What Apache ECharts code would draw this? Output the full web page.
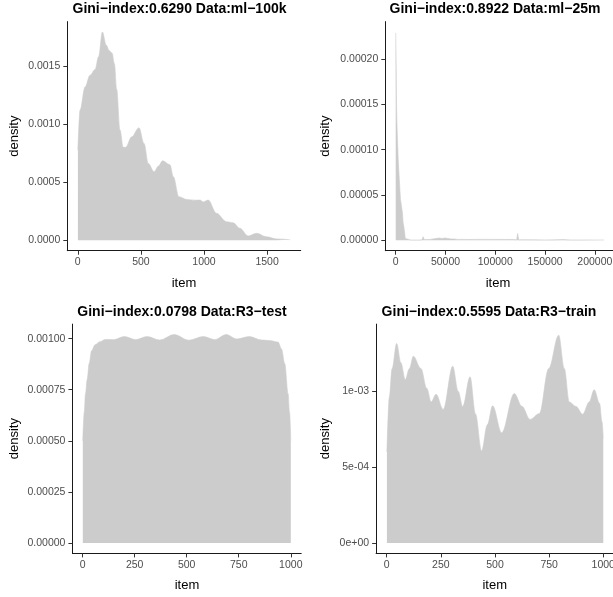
<!DOCTYPE html>
<html><head><meta charset="utf-8">
<script src="https://cdn.jsdelivr.net/npm/echarts@6/dist/echarts.min.js"></script>
<style>html,body{margin:0;padding:0;background:#fff}#c{width:613px;height:597px}</style>
</head><body><div id="c"></div>
<script>
// ---------- data ----------
const titles = ['Gini\u2212index:0.6290 Data:ml\u2212100k', 'Gini\u2212index:0.8922 Data:ml\u221225m',
                'Gini\u2212index:0.0798 Data:R3\u2212test', 'Gini\u2212index:0.5595 Data:R3\u2212train'];
const xName = 'item';
const yName = 'density';

// ml-100k
const p1X = [1,18,58,97,137,165,195,225,250,272,290,308,334,360,380,427,485,525,559,604,640,672,730,757,801,862,930,968,994,1033,1099,1178,1231,1284,1350,1416,1495,1574,1682];
const p1Y = [0.000776,0.00112,0.00132,0.00142,0.00147,0.00158,0.001792,0.00168,0.00163,0.00161,0.00152,0.00130,0.00095,0.00080,0.00080,0.00089,0.000968,0.000833,0.00066,0.00059,0.00064,0.000684,0.00065,0.000547,0.000375,0.000352,0.000345,0.000346,0.00033,0.000346,0.000232,0.00016,0.000151,0.000103,0.000037,0.00006,0.00003,0.000012,0.000005];

// ml-25m
const p2X = [1,200,500,800,1200,1800,2500,3200,4000,4800,5500,6300,6800,7400,8200,9000,9600,10500,15000,20000,
  24000,25500,26500,27500,28500,30000,31500,33000,34500,36000,37500,39000,40500,42000,43500,45000,46500,48000,49500,51000,
  52500,54000,55500,57000,58500,60000,62000,64000,66000,68000,70000,72000,74000,76000,78000,80000,82000,84000,86000,88000,
  90000,92000,94000,96000,98000,100000,102000,104000,106000,108000,110000,112000,114000,116000,118000,120000,121500,122500,123500,130000,
  140000,150000,160000,168000,175000,190000,209171];
const p2Y = [0.000229,0.00023,0.00019,0.00015,0.00013,0.00011,0.00009,0.000075,0.00006,0.000045,0.00004,0.000039,0.00003,0.00002,0.000015,0.000008,0.000002,0.0000005,0.0000003,0.0000003,
  0.0000003,0.0000025,0.0000005,0.000004,0.000001,0.000003,0.0000008,0.0000025,0.000001,0.000003,0.0000015,0.0000035,0.000002,0.000004,0.0000025,0.0000045,0.000002,0.000004,0.0000025,0.0000045,
  0.000002,0.000004,0.0000015,0.000003,0.0000015,0.0000035,0.000001,0.0000025,0.000001,0.000003,0.000001,0.0000025,0.0000008,0.000003,0.000001,0.0000025,0.000001,0.000003,0.000001,0.0000025,
  0.000001,0.000003,0.000001,0.0000025,0.000001,0.000003,0.000001,0.0000025,0.000001,0.000002,0.0000008,0.0000025,0.000001,0.000002,0.0000008,0.0000015,0.0000005,0.0000075,0.0000005,0.0000006,
  0.0000005,0.0000004,0.0000005,0.0000008,0.0000004,0.0000004,0.0000003];

// R3-test
const p3X = [1,8,14,22,32,43,60,83,110,150,200,255,310,370,440,510,580,635,690,740,800,860,905,939,955,971,987,994,1000];
const p3Y = [0.0005,0.00064,0.00073,0.0008,0.00088,0.00094,0.00097,0.000985,0.000996,0.000995,0.00101,0.000995,0.00101,0.000993,0.00102,0.000992,0.00101,0.000995,0.00102,0.000998,0.00101,0.000993,0.00099,0.000983,0.00095,0.000877,0.00073,0.00064,0.0005];

// R3-train
const p4X = [1,12,25,46,65,86,105,123,158,185,205,228,261,305,330,351,385,410,438,465,489,531,589,625,662,705,748,794,820,843,874,905,935,958,983,994,1000];
const p4Y = [0.0006,0.00096,0.00115,0.001315,0.00119,0.001077,0.00115,0.001231,0.00115,0.00102,0.00093,0.00098,0.00088,0.001165,0.001,0.0009,0.001095,0.00085,0.000607,0.00078,0.000904,0.000726,0.000985,0.0009,0.000814,0.000853,0.00115,0.00137,0.00115,0.00093,0.0009,0.000849,0.00093,0.00101,0.00092,0.0008,0.00069];

// tick values / labels
const p1XTicks = [0,500,1000,1500];
const p1YTicks = [0,0.0005,0.001,0.0015];
const p1YLabels = ['0.0000','0.0005','0.0010','0.0015'];
const p2XTicks = [0,50000,100000,150000,200000];
const p2YTicks = [0,0.00005,0.0001,0.00015,0.0002];
const p2YLabels = ['0.00000','0.00005','0.00010','0.00015','0.00020'];
const p3XTicks = [0,250,500,750,1000];
const p3YTicks = [0,0.00025,0.0005,0.00075,0.001];
const p3YLabels = ['0.00000','0.00025','0.00050','0.00075','0.00100'];
const p4XTicks = [0,250,500,750,1000];
const p4YTicks = [0,0.0005,0.001];
const p4YLabels = ['0e+00','5e-04','1e-03'];

// ---------- layout ----------
const FONT = "'Liberation Sans', Arial, Helvetica, sans-serif";
const panels = [
  {x:p1X, y:p1Y, xt:p1XTicks, yt:p1YTicks, yl:p1YLabels, xr:[1,1682], ymax:0.001792,
   grid:{left:67.3, top:21.6, width:233.4, height:229.1}, title:[179.5,9.5], yname:[14.2,136.2], xname:[184,283]},
  {x:p2X, y:p2Y, xt:p2XTicks, yt:p2YTicks, yl:p2YLabels, xr:[1,209171], ymax:0.00023,
   grid:{left:385.3, top:21.6, width:229.1, height:229.1}, title:[495,9.5], yname:[325.3,136.2], xname:[498,283]},
  {x:p3X, y:p3Y, xt:p3XTicks, yt:p3YTicks, yl:p3YLabels, xr:[1,1000], ymax:0.00102,
   grid:{left:72.4, top:324.1, width:228.8, height:229.3}, title:[182,312], yname:[14.2,438.7], xname:[187,585]},
  {x:p4X, y:p4Y, xt:p4XTicks, yt:p4YTicks, yl:p4YLabels, xr:[1,1000], ymax:0.001374,
   grid:{left:376.1, top:324.1, width:238, height:229.3}, title:[489,312], yname:[325.2,438.7], xname:[494.7,585]}
];

const grids=[], xAxes=[], yAxes=[], series=[], graphics=[];
panels.forEach((p,i)=>{
  grids.push(Object.assign({outerBoundsMode:'none', containLabel:false}, p.grid));
  const xpad = (p.xr[1]-p.xr[0])*0.05, ypad = p.ymax*0.05;
  const axisCommon = {
    axisLine:{show:true, onZero:false, lineStyle:{color:'#1a1a1a', width:1}},
    axisTick:{show:true, length:4, lineStyle:{color:'#333', width:1}},
    splitLine:{show:false}
  };
  xAxes.push(Object.assign({type:'value', gridIndex:i, min:p.xr[0]-xpad, max:p.xr[1]+xpad,
    axisLabel:{customValues:p.xt, margin:6, fontSize:10.5, color:'#4d4d4d', fontFamily:FONT,
      formatter:v=>String(v)}}, axisCommon,
    {axisTick:{show:true, customValues:p.xt, length:4, lineStyle:{color:'#333', width:1}}}));
  yAxes.push(Object.assign({type:'value', gridIndex:i, min:-ypad, max:p.ymax+ypad,
    axisLabel:{customValues:p.yt, margin:7, fontSize:10.5, color:'#4d4d4d', fontFamily:FONT,
      formatter:v=>{const k=p.yt.findIndex(t=>Math.abs(t-v)<1e-12); return k>=0?p.yl[k]:'';}}}, axisCommon,
    {axisTick:{show:true, customValues:p.yt, length:4, lineStyle:{color:'#333', width:1}}}));
  series.push({type:'line', xAxisIndex:i, yAxisIndex:i, data:p.x.map((v,j)=>[v,p.y[j]]),
    symbol:'none', showSymbol:false, smooth: i===1 ? false : 0.35, smoothMonotone:'x',
    lineStyle:{width:0.6, color:'#cccccc'}, areaStyle:{color:'#cccccc', opacity:1},
    silent:true, animation:false});
  graphics.push({type:'text', x:p.title[0], y:p.title[1], style:{text:titles[i], fontSize:14, fontWeight:'bold',
    fill:'#000', align:'center', verticalAlign:'middle', fontFamily:FONT}});
  graphics.push({type:'text', x:p.yname[0], y:p.yname[1], rotation:Math.PI/2, style:{text:yName, fontSize:13,
    fill:'#000', align:'center', verticalAlign:'middle', fontFamily:FONT}});
  graphics.push({type:'text', x:p.xname[0], y:p.xname[1], style:{text:xName, fontSize:13,
    fill:'#000', align:'center', verticalAlign:'middle', fontFamily:FONT}});
});

const chart = echarts.init(document.getElementById('c'), null, {renderer:'canvas'});
chart.setOption({
  backgroundColor:'#ffffff',
  animation:false,
  grid:grids, xAxis:xAxes, yAxis:yAxes, series:series, graphic:graphics
});
</script>
</body></html>
